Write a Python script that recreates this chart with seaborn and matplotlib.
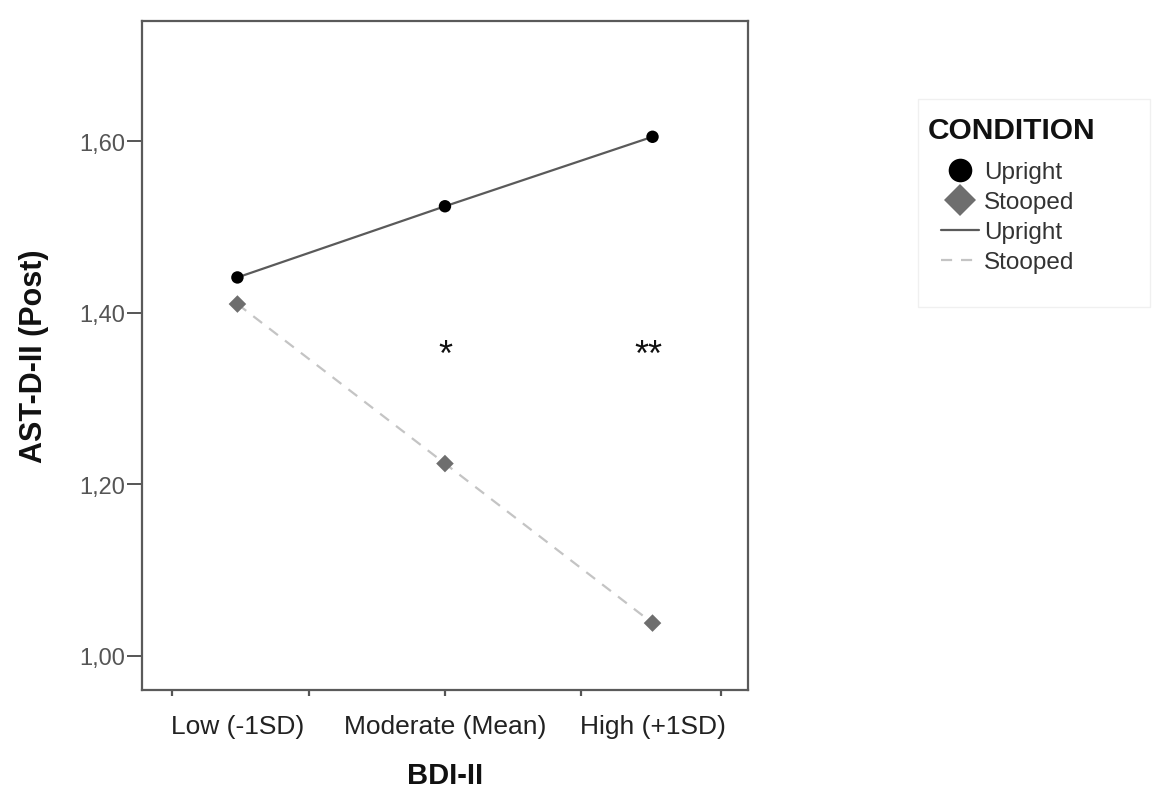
import matplotlib
matplotlib.use("Agg")
import matplotlib.pyplot as plt
from matplotlib.lines import Line2D
from matplotlib.patches import Rectangle
import seaborn as sns
import pandas as pd

# Simple slopes: AST-D-II (Post) by BDI-II level and posture condition
levels = ["Low (-1SD)", "Moderate (Mean)", "High (+1SD)"]
upright = [1.441, 1.524, 1.605]
stooped = [1.410, 1.224, 1.038]
conditions = ["Upright", "Stooped"]
y_ticks = [1.00, 1.20, 1.40, 1.60]
y_tick_labels = ["1,00", "1,20", "1,40", "1,60"]
sig_marks = ["", "*", "**"]
sig_level = 1.350

df = pd.DataFrame({
    "BDI-II": levels * 2,
    "AST": upright + stooped,
    "CONDITION": [conditions[0]] * 3 + [conditions[1]] * 3,
})

sns.set_theme(style="white")
plt.rcParams["font.family"] = ["Liberation Sans", "DejaVu Sans"]

fig = plt.figure(figsize=(11.55, 8.03), dpi=100)
ax = fig.add_axes([0.1229, 0.1395, 0.5247, 0.8331])

line_col = {"Upright": "#5a5a5a", "Stooped": "#c4c4c4"}
mark_col = {"Upright": "#000000", "Stooped": "#6e6e6e"}

sns.lineplot(data=df, x="BDI-II", y="AST", hue="CONDITION", style="CONDITION",
             palette=line_col, dashes={"Upright": "", "Stooped": (5, 4)},
             markers=False, linewidth=1.6, legend=False, ax=ax, sort=False)
sns.scatterplot(data=df, x="BDI-II", y="AST", hue="CONDITION", style="CONDITION",
                palette=mark_col, markers={"Upright": "o", "Stooped": "D"},
                s=80, linewidth=0, legend=False, ax=ax, zorder=3)

# significance markers for the simple-slope contrasts
for i, m in enumerate(sig_marks):
    if m:
        ax.text(i - (0.02 if len(m) > 1 else 0), sig_level, m, ha="center", va="center",
                fontsize=26, color="#111111")

ax.set_xlim(-0.46, 2.46)
ax.set_ylim(0.960, 1.740)
ax.set_yticks(y_ticks)
ax.set_yticklabels(y_tick_labels)
ax.set_xticks(range(len(levels)))
ax.set_xticklabels(levels)
ax.set_xticks([-0.316, 0.344, 1.0, 1.656, 2.33], minor=True)
ax.xaxis.remove_overlapping_locs = False

ax.tick_params(axis="x", which="major", length=0, labelsize=19, colors="#222222", pad=17)
ax.tick_params(axis="x", which="minor", bottom=True, length=4, width=1.6, color="#555555")
ax.tick_params(axis="y", which="major", left=True, length=11, width=1.4, color="#555555",
               labelsize=17, labelcolor="#555555", pad=1)

for s in ax.spines.values():
    s.set_color("#5a5a5a")
    s.set_linewidth(1.6)

ax.set_xlabel("BDI-II", fontsize=21, fontweight="bold", color="#111111", labelpad=17)
ax.set_ylabel("AST-D-II (Post)", fontsize=22, fontweight="bold", color="#111111", labelpad=22)

# legend: title drawn separately so the gap above the entries can be set
fig.text(928 / 1155, 1 - 131 / 803, "CONDITION", ha="left", va="center",
         fontsize=21.5, fontweight="bold", color="#111111")

handles = [
    Line2D([], [], marker="o", color="none", markerfacecolor="#000000", markeredgewidth=0, markersize=17),
    Line2D([], [], marker="D", color="none", markerfacecolor="#6e6e6e", markeredgewidth=0, markersize=16),
    Line2D([], [], color=line_col["Upright"], linewidth=1.6),
    Line2D([], [], color=line_col["Stooped"], linewidth=1.6, dashes=(5, 4)),
]
leg = fig.legend(handles, conditions + conditions,
                 loc="upper left", bbox_to_anchor=(0.8043, 1 - 150 / 803), frameon=False,
                 fontsize=17.5, handlelength=1.55, handletextpad=0.2,
                 labelspacing=0.33, borderpad=0.0)
for t in leg.get_texts():
    t.set_color("#333333")

# faint box around the legend area
fig.patches.append(Rectangle((918 / 1155, 1 - 308 / 803), 232 / 1155, 208 / 803,
                             transform=fig.transFigure, fill=False,
                             edgecolor="#f0f0f0", linewidth=1.0))

fig.savefig("out.png", dpi=100, facecolor="white")
